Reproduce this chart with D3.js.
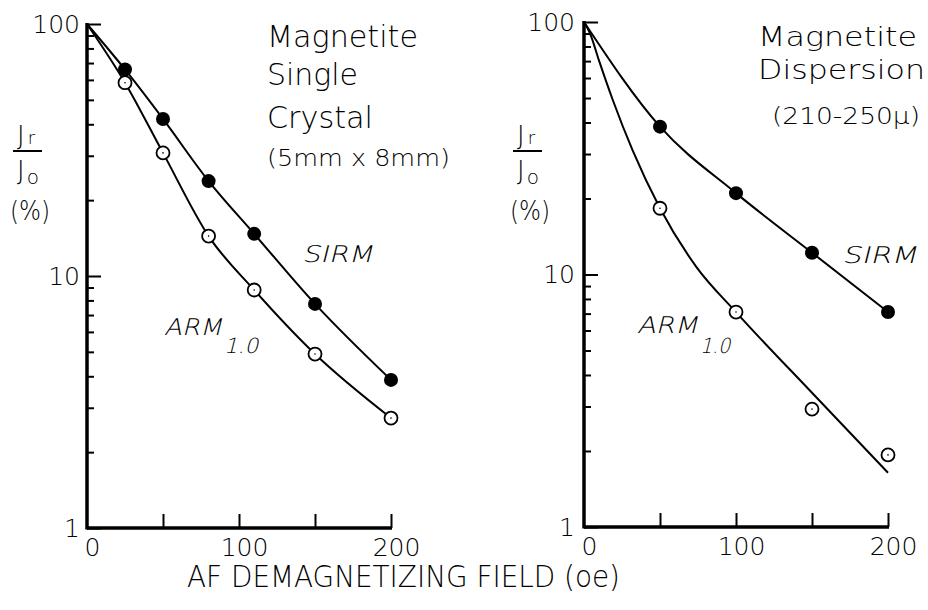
<!DOCTYPE html>
<html>
<head>
<meta charset="utf-8">
<script src="https://cdn.jsdelivr.net/npm/d3@7"></script>
<style>
  body { margin: 0; background: #fff; }
  text { fill: #000; }
</style>
</head>
<body>
<script>
// ---- data ----
// left panel : magnetite single crystal
var fieldL = [0, 25, 50, 80, 110, 150, 200];
var sirmL  = [100, 66, 42, 23.8, 14.7, 7.75, 3.87];
var armL   = [100, 58.5, 30.8, 14.4, 8.8, 4.9, 2.73];

// right panel : magnetite dispersion (measured points)
var fieldR = [50, 100, 150, 200];
var sirmR  = [38.5, 21, 12.2, 7.1];
var armR   = [18.3, 7.1, 2.93, 1.93];
// right panel drawn curves
var sirmFitField = [0, 50, 100, 150, 200];
var sirmFit      = [100, 38.5, 21, 12.2, 7.1];
var armFitField  = [0, 4, 10, 19, 32, 50, 74, 100, 150, 200];
var armFit       = [100, 90, 70, 49, 31, 18.3, 10.7, 7.1, 3.4, 1.64];

var yTicks = [1, 10, 100];
var yMinor = [2, 3, 4, 5, 6, 7, 8, 9, 20, 30, 40, 50, 60, 70, 80, 90];
var xTicks = [0, 100, 200];
var xInner = [50, 100, 150, 200];

var F = '"DejaVu Sans", "Liberation Sans", sans-serif';
var FW = 200;

var svg = d3.select('body').append('svg')
    .attr('width', 928)
    .attr('height', 610);

function txt(g, s, x, y, size, len, italic) {
    var t = g.append('text')
        .attr('font-family', F)
        .attr('font-weight', FW)
        .attr('font-size', size)
        .text(s);
    if (italic) {
        // the light face has no italic, so slant it by hand
        t.attr('transform', 'translate(' + x + ',' + y + ') skewX(-14)');
    } else {
        t.attr('x', x).attr('y', y);
    }
    if (len) t.attr('textLength', len).attr('lengthAdjust', 'spacingAndGlyphs');
    return t;
}

function panel(o) {
    var x = d3.scaleLinear().domain([0, 200]).range(o.xr);
    var y = d3.scaleLog().domain([1, 100]).range(o.yr);
    var g = svg.append('g');

    // y ticks (inside, to the right)
    g.append('g')
        .attr('transform', 'translate(' + x(0) + ',0)')
        .call(d3.axisRight(y).tickValues(yMinor).tickSize(7).tickFormat(''));
    g.append('g')
        .attr('transform', 'translate(' + x(0) + ',0)')
        .call(d3.axisRight(y).tickValues(yTicks).tickSize(14).tickFormat(''));
    var yl = g.append('g')
        .attr('transform', 'translate(' + x(0) + ',0)')
        .call(d3.axisLeft(y).tickValues(yTicks).tickSize(0).tickPadding(o.ypad).tickFormat(d3.format('d')));
    yl.selectAll('text').attr('font-size', 25).attr('font-family', F).attr('font-weight', FW);

    // x ticks (inside, pointing up)
    g.append('g')
        .attr('transform', 'translate(0,' + y(1) + ')')
        .call(d3.axisTop(x).tickValues(xInner).tickSize(14).tickFormat(''));
    var xl = g.append('g')
        .attr('transform', 'translate(0,' + y(1) + ')')
        .call(d3.axisBottom(x).tickValues(xTicks).tickSize(0).tickPadding(10));
    xl.selectAll('text').attr('font-size', 25).attr('font-family', F).attr('font-weight', FW).attr('dx', '0.2em');

    g.selectAll('.domain').remove();
    g.selectAll('.tick line').attr('stroke', '#000').attr('stroke-width', 2);

    // thick axis lines
    g.append('line')
        .attr('x1', x(0)).attr('x2', x(0))
        .attr('y1', y(100) - 1).attr('y2', y(1) + 1.5)
        .attr('stroke', '#000').attr('stroke-width', 3.5);
    g.append('line')
        .attr('x1', x(0)).attr('x2', x(200) + 1)
        .attr('y1', y(1)).attr('y2', y(1))
        .attr('stroke', '#000').attr('stroke-width', 3.5);

    var line = d3.line()
        .x(function(d) { return x(d[0]); })
        .y(function(d) { return y(d[1]); })
        .curve(d3.curveMonotoneX);

    o.curves.forEach(function(c) {
        g.append('path')
            .attr('d', line(c))
            .attr('fill', 'none')
            .attr('stroke', '#000')
            .attr('stroke-width', 2);
    });

    // filled markers
    g.selectAll('.full').data(o.full).enter().append('circle')
        .attr('cx', function(d) { return x(d[0]); })
        .attr('cy', function(d) { return y(d[1]); })
        .attr('r', 7)
        .attr('fill', '#000');
    // open markers
    g.selectAll('.open').data(o.open).enter().append('circle')
        .attr('cx', function(d) { return x(d[0]); })
        .attr('cy', function(d) { return y(d[1]); })
        .attr('r', 6.5)
        .attr('fill', '#fff')
        .attr('stroke', '#000')
        .attr('stroke-width', 1.8);
    g.selectAll('.dot').data(o.open).enter().append('circle')
        .attr('cx', function(d) { return x(d[0]); })
        .attr('cy', function(d) { return y(d[1]); })
        .attr('r', 0.8)
        .attr('fill', '#000');

    // y label  Jr / Jo (%)
    var lx = x(0) + o.lab;
    var ul = g.append('text').attr('x', lx).attr('y', 145)
        .attr('font-family', F).attr('font-weight', FW).attr('font-size', 26);
    ul.append('tspan').text('J');
    ul.append('tspan').attr('font-size', 18).attr('dx', 3).attr('dy', -1).text('r');
    g.append('line')
        .attr('x1', lx - 4).attr('x2', lx + 25)
        .attr('y1', 151).attr('y2', 151)
        .attr('stroke', '#000').attr('stroke-width', 2);
    var ll = g.append('text').attr('x', lx).attr('y', 180)
        .attr('font-family', F).attr('font-weight', FW).attr('font-size', 26);
    ll.append('tspan').text('J');
    ll.append('tspan').attr('font-size', 20).attr('dx', 2).attr('dy', 4).text('o');
    txt(g, '(%)', lx - 7, 220, 26, 40);

    return g;
}

var left = panel({
    xr: [87, 391], yr: [528, 24], ypad: 7, lab: -70,
    curves: [d3.zip(fieldL, sirmL), d3.zip(fieldL, armL)],
    full: d3.zip(fieldL, sirmL).slice(1),
    open: d3.zip(fieldL, armL).slice(1)
});
var right = panel({
    xr: [584, 888], yr: [527, 22], ypad: 9, lab: -67,
    curves: [d3.zip(sirmFitField, sirmFit), d3.zip(armFitField, armFit)],
    full: d3.zip(fieldR, sirmR),
    open: d3.zip(fieldR, armR)
});

// panel titles
txt(left, 'Magnetite', 267, 47, 30, 151);
txt(left, 'Single', 267, 85, 30, 91);
txt(left, 'Crystal', 267, 128, 30, 106);
txt(left, '(5mm x 8mm)', 267, 166, 23, 183);

txt(right, 'Magnetite', 758, 46, 27, 159);
txt(right, 'Dispersion', 758, 79, 27, 167);
txt(right, '(210-250\u03bc)', 772, 124, 23, 148);

// curve labels
txt(left, 'SIRM', 302, 262, 23, 71, true);
txt(left, 'ARM', 164, 335, 23, 58, true);
txt(left, '1.0', 224, 353, 21, 34, true);

txt(right, 'SIRM', 842, 263, 23, 75, true);
txt(right, 'ARM', 637, 333, 23, 61, true);
txt(right, '1.0', 700, 353, 21, 30, true);

// shared x title
txt(svg, 'AF DEMAGNETIZING FIELD (oe)', 187, 587, 30, 433);
</script>
</body>
</html>
